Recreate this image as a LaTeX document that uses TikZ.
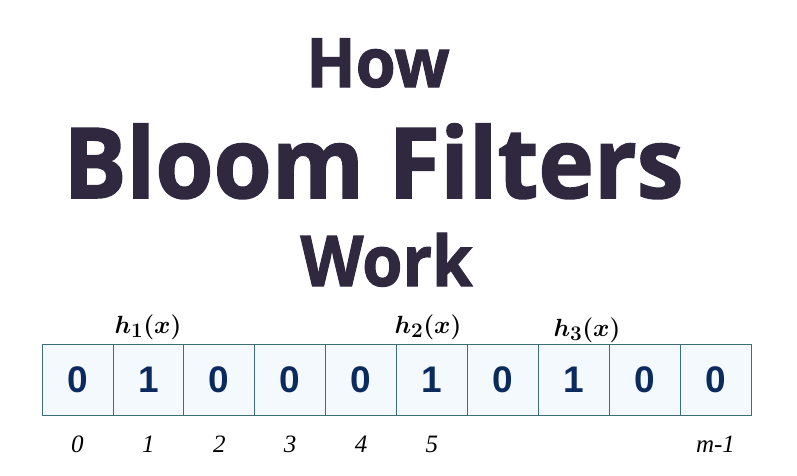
\documentclass[tikz,border=0pt]{standalone}
\usepackage{fontspec}
\usepackage{graphicx}
\usepackage{bm}
\setmainfont{Liberation Serif}
\newfontfamily\titlefont{Open Sans}[BoldFeatures={FakeBold=1.6}]
\newfontfamily\bitfont{Liberation Sans}
\newfontfamily\idxfont{Liberation Serif}
\definecolor{titlecol}{HTML}{30283F}
\definecolor{bitcol}{HTML}{0B2A5E}
\definecolor{cellfill}{HTML}{F4F9FD}
\definecolor{celldraw}{HTML}{3D6E78}
\tikzset{
  title/.style={text=titlecol, inner sep=0pt, anchor=base},
  cell/.style={draw=celldraw, fill=cellfill, line width=0.8pt, minimum width=70.9pt, minimum height=71pt, inner sep=0pt, font=\bitfont\bfseries\fontsize{37}{37}\selectfont, text=bitcol},
  idx/.style={font=\idxfont\itshape\fontsize{25}{25}\selectfont, inner sep=0pt, anchor=base},
  hlab/.style={font=\fontsize{28}{28}\selectfont, inner sep=0pt, anchor=base}
}
\begin{document}
\begin{tikzpicture}[x=1pt,y=-1pt]
\useasboundingbox (0,0) rectangle (797,475);
\node[title, font=\titlefont\bfseries\fontsize{68}{68}\selectfont] (how) at (378,87) {\scalebox{0.95}[1]{How}};
\node[title, font=\titlefont\bfseries\fontsize{98}{98}\selectfont] (bloom) at (373.5,198) {\scalebox{0.96}[1]{Bloom Filters}};
\node[title, font=\titlefont\bfseries\fontsize{70}{70}\selectfont] (work) at (386.5,286) {\scalebox{0.93}[1]{Work}};
\foreach \i/\v in {0/0,1/1,2/0,3/0,4/0,5/1,6/0,7/1,8/0,9/0}{
  \node[cell] (c\i) at ({42+70.9*(\i+0.5)},379.5) {\v};
}
\foreach \i in {0,...,5}{
  \node[idx] (i\i) at ({42+70.9*(\i+0.5)},452) {\i};
}
\node[idx] (im) at ({42+70.9*9.5},452) {m-1};
\node[hlab] (h1) at (148,333) {$\bm{h_1(x)}$};
\node[hlab] (h2) at (428,333) {$\bm{h_2(x)}$};
\node[hlab] (h3) at (587,336) {$\bm{h_3(x)}$};
\end{tikzpicture}
\end{document}
